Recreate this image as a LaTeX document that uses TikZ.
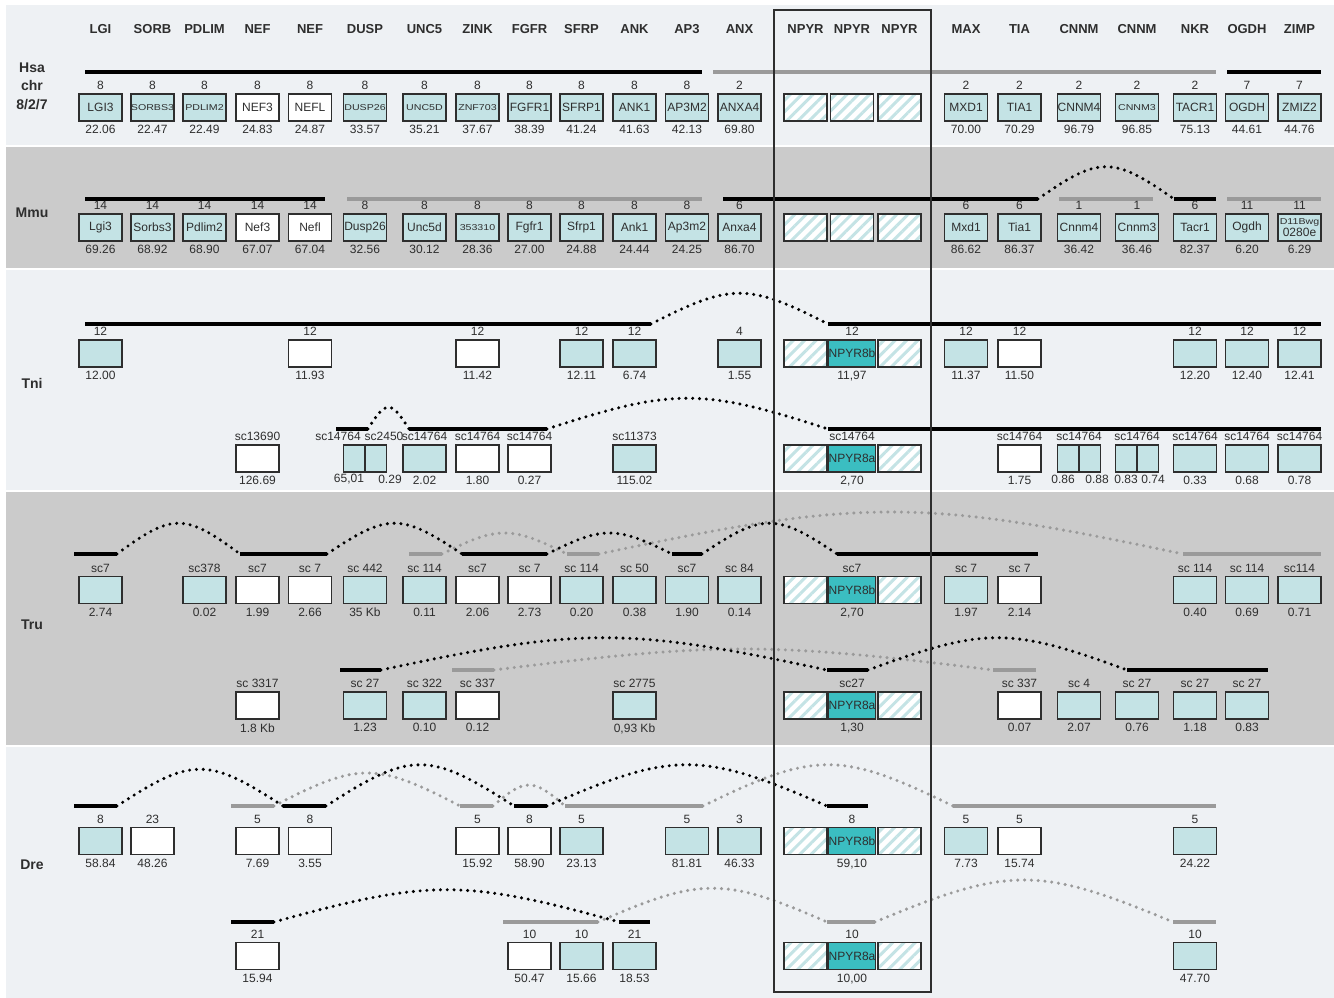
\documentclass[tikz,border=0pt]{standalone}
\usepackage{fontspec}
\setmainfont{Liberation Sans}
\newfontfamily\widesf{Liberation Sans}[FakeStretch=1.25]
\usepackage{xcolor}
\usetikzlibrary{patterns.meta}
\definecolor{lt}{HTML}{C4E3E5}
\definecolor{dt}{HTML}{3BBEC1}
\definecolor{bgl}{HTML}{EEF1F4}
\definecolor{bgd}{HTML}{CBCBCB}
\definecolor{gl}{HTML}{9A9A9A}
\definecolor{ink}{HTML}{2E2E2E}
\newcommand\sm{\widesf\fontsize{8.5}{9.5}\selectfont}

\begin{document}
\begin{tikzpicture}[x=1pt, y=1pt, label distance=2.5pt,
      gene/.style = {draw=ink, line width=1.2pt, minimum width=43pt,
        minimum height=27pt, inner sep=0pt, align=center, text=ink,
        font=\fontsize{12}{12.5}\selectfont},
      hatch/.style = {gene, preaction={fill=white}, pattern color=lt,
        pattern={Lines[angle=45,distance=8pt,line width=3pt]}},
      num/.style = {font=\fontsize{12}{13}\selectfont, text=ink, inner sep=1pt},
      head/.style = {font=\bfseries\fontsize{13}{15}\selectfont, text=ink},
      spec/.style = {font=\bfseries\fontsize{14}{18.5}\selectfont, text=ink, align=center},
      blk/.style = {line width=3.6pt, black},
      gry/.style = {line width=3.6pt, gl},
      dots/.style = {line width=3.4pt, line cap=round, dash pattern=on 0pt off 6.8pt}]
  \useasboundingbox (0,0) rectangle (1334,-998);
  \fill[white] (0,0) rectangle (1334,-998);
  \fill[bgl] (6,-5) rectangle (1334,-145);
  \fill[bgd] (6,-147) rectangle (1334,-268);
  \fill[bgl] (6,-270) rectangle (1334,-490);
  \fill[bgd] (6,-492) rectangle (1334,-745);
  \fill[bgl] (6,-747) rectangle (1334,-998);

  \foreach \gx/\gn [count=\i] in {100.5/LGI, 152.5/SORB, 204.5/PDLIM, 257.5/NEF, 310/NEF,
      365/DUSP, 424.5/UNC5, 477.5/ZINK, 529.5/FGFR, 581.5/SFRP, 634.5/ANK, 687/AP3,
      739.5/ANX, 805.5/NPYR, 852/NPYR, 899.5/NPYR, 966/MAX, 1019.5/TIA, 1079/CNNM,
      1137/CNNM, 1195/NKR, 1247/OGDH, 1299.5/ZIMP}
    \node[head] (hd-\i) at (\gx,-29) {\gn};
  \node[spec] (sp-hsa) at (32,-86) {Hsa\\chr\\8/2/7};
  \node[spec] (sp-mmu) at (32,-213) {Mmu};
  \node[spec] (sp-tni) at (32,-383) {Tni};
  \node[spec] (sp-tru) at (32,-625) {Tru};
  \node[spec] (sp-dre) at (32,-865) {Dre};

  \draw[blk] (85,-72) -- (702,-72) (1227,-72) -- (1321,-72);
  \draw[gry] (713,-72) -- (1216,-72);
  \draw[blk] (85,-199) -- (325,-199) (723,-199) -- (1038,-199) (1174,-199) -- (1216,-199);
  \draw[gry] (347,-199) -- (702,-199) (1059,-199) -- (1153,-199) (1227,-199) -- (1321,-199);
  \draw[dots] (1038,-199) .. controls (1099,-156) and (1113,-156) .. (1174,-199);

  \draw[blk] (85,-324) -- (651,-324) (828,-324) -- (1321,-324);
  \draw[dots] (651,-324) .. controls (731,-283) and (748,-283) .. (828,-324);
  \draw[blk] (336,-429) -- (368,-429) (409,-429) -- (547,-429) (828,-429) -- (1321,-429);
  \draw[dots] (368,-429) .. controls (386,-400) and (391,-400) .. (409,-429);
  \draw[dots] (547,-429) .. controls (673,-388) and (702,-388) .. (828,-429);

  \draw[blk] (74,-554) -- (117,-554) (240,-554) -- (327,-554) (462,-554) -- (547,-554)
    (672,-554) -- (702,-554) (837,-554) -- (1038,-554);
  \draw[gry] (409,-554) -- (442,-554) (567,-554) -- (599,-554) (1183,-554) -- (1321,-554);
  \draw[dots, gl] (442,-554) .. controls (498,-526) and (511,-526) .. (567,-554);
  \draw[dots, gl] (599,-554) .. controls (862,-498) and (920,-498) .. (1183,-554);
  \draw[dots] (117,-554) .. controls (172,-513) and (185,-513) .. (240,-554);
  \draw[dots] (327,-554) .. controls (388,-513) and (401,-513) .. (462,-554);
  \draw[dots] (547,-554) .. controls (603,-526) and (616,-526) .. (672,-554);
  \draw[dots] (702,-554) .. controls (763,-513) and (776,-513) .. (837,-554);
  \draw[blk] (340,-670) -- (381,-670) (827,-670) -- (868,-670) (1127,-670) -- (1268,-670);
  \draw[gry] (452,-670) -- (494,-670) (993,-670) -- (1036,-670);
  \draw[dots, gl] (494,-670) .. controls (719,-642) and (768,-642) .. (993,-670);
  \draw[dots] (381,-670) .. controls (582,-627) and (626,-627) .. (827,-670);
  \draw[dots] (868,-670) .. controls (985,-627) and (1010,-627) .. (1127,-670);

  \draw[blk] (74,-806) -- (117,-806) (283,-806) -- (326,-806) (514,-806) -- (547,-806)
    (827,-806) -- (868,-806);
  \draw[gry] (231,-806) -- (274,-806) (460,-806) -- (493,-806) (565,-806) -- (703,-806)
    (953,-806) -- (1216,-806);
  \draw[dots, gl] (274,-806) .. controls (358,-762) and (376,-762) .. (460,-806);
  \draw[dots, gl] (493,-806) .. controls (525,-778) and (533,-778) .. (565,-806);
  \draw[dots, gl] (703,-806) .. controls (815,-751) and (841,-751) .. (953,-806);
  \draw[dots] (117,-806) .. controls (192,-757) and (208,-757) .. (283,-806);
  \draw[dots] (326,-806) .. controls (411,-751) and (429,-751) .. (514,-806);
  \draw[dots] (547,-806) .. controls (673,-751) and (701,-751) .. (827,-806);
  \draw[blk] (231,-922) -- (274,-922) (619,-922) -- (650,-922);
  \draw[gry] (503,-922) -- (598,-922) (827,-922) -- (875,-922) (1173,-922) -- (1216,-922);
  \draw[dots, gl] (598,-922) .. controls (701,-877) and (724,-877) .. (827,-922);
  \draw[dots, gl] (875,-922) .. controls (1009,-866) and (1039,-866) .. (1173,-922);
  \draw[dots] (274,-922) .. controls (429,-879) and (464,-879) .. (619,-922);

  \draw[line width=1.1pt, ink] (774,-10) rectangle (931,-992);

  \foreach \gx/\gs/\gt/\gb/\gn [count=\i] in {100.5/lt/8/22.06/LGI3,
      152.5/lt/8/22.47/\sm SORBS3, 204.5/lt/8/22.49/\sm PDLIM2, 257.5/white/8/24.83/NEF3,
      310/white/8/24.87/NEFL, 365/lt/8/33.57/\sm DUSP26, 424.5/lt/8/35.21/\sm UNC5D,
      477.5/lt/8/37.67/\sm ZNF703, 529.5/lt/8/38.39/FGFR1, 581.5/lt/8/41.24/SFRP1,
      634.5/lt/8/41.63/ANK1, 687/lt/8/42.13/AP3M2, 739.5/lt/2/69.80/ANXA4,
      966/lt/2/70.00/MXD1, 1019.5/lt/2/70.29/TIA1, 1079/lt/2/96.79/CNNM4,
      1137/lt/2/96.85/\sm CNNM3, 1195/lt/2/75.13/TACR1, 1247/lt/7/44.61/OGDH,
      1299.5/lt/7/44.76/ZMIZ2}
    \node[gene, fill=\gs, label={[num]above:\gt}, label={[num]below:\gb}]
      (hsa-\i) at (\gx,-107.5) {\gn};

  \foreach \gx/\gs/\gt/\gb/\gn [count=\i] in {100.5/lt/14/69.26/Lgi3,
      152.5/lt/14/68.92/Sorbs3, 204.5/lt/14/68.90/Pdlim2, 257.5/white/14/67.07/Nef3,
      310/white/14/67.04/Nefl, 365/lt/8/32.56/Dusp26, 424.5/lt/8/30.12/Unc5d,
      477.5/lt/8/28.36/\sm 353310, 529.5/lt/8/27.00/Fgfr1, 581.5/lt/8/24.88/Sfrp1,
      634.5/lt/8/24.44/Ank1, 687/lt/8/24.25/Ap3m2, 739.5/lt/6/86.70/Anxa4,
      966/lt/6/86.62/Mxd1, 1019.5/lt/6/86.37/Tia1, 1079/lt/1/36.42/Cnnm4,
      1137/lt/1/36.46/Cnnm3, 1195/lt/6/82.37/Tacr1, 1247/lt/11/6.20/Ogdh,
      1299.5/lt/11/6.29/\sm D11Bwg\\0280e}
    \node[gene, fill=\gs, label={[num]above:\gt}, label={[num]below:\gb}]
      (mmu-\i) at (\gx,-227.5) {\gn};

  \foreach \gx/\gs/\gt/\gb/\gn [count=\i] in {100.5/lt/12/12.00/{}, 310/white/12/11.93/{},
      477.5/white/12/11.42/{}, 581.5/lt/12/12.11/{}, 634.5/lt/12/6.74/{},
      739.5/lt/4/1.55/{}, {852/dt/12/11,97/NPYR8b}, 966/lt/12/11.37/{},
      1019.5/white/12/11.50/{}, 1195/lt/12/12.20/{}, 1247/lt/12/12.40/{},
      1299.5/lt/12/12.41/{}}
    \node[gene, fill=\gs, label={[num]above:\gt}, label={[num]below:\gb}]
      (tnia-\i) at (\gx,-353.5) {\gn};

  \foreach \gx/\gs/\gt/\gb/\gn [count=\i] in {257.5/white/sc13690/126.69/{},
      424.5/lt/sc14764/2.02/{}, 477.5/white/sc14764/1.80/{}, 529.5/white/sc14764/0.27/{},
      634.5/lt/sc11373/115.02/{}, {852/dt/sc14764/2,70/NPYR8a},
      1019.5/white/sc14764/1.75/{}, 1195/lt/sc14764/0.33/{}, 1247/lt/sc14764/0.68/{},
      1299.5/lt/sc14764/0.78/{}}
    \node[gene, fill=\gs, label={[num]above:\gt}, label={[num]below:\gb}]
      (tnib-\i) at (\gx,-458.5) {\gn};
  \node[gene, fill=lt] (tnib-s6) at (365,-458.5) {};
  \node[gene, fill=lt, label={[num]above:sc14764}] (tnib-s19) at (1079,-458.5) {};
  \node[gene, fill=lt, label={[num]above:sc14764}] (tnib-s20) at (1137,-458.5) {};
  \draw[line width=1.2pt, ink] (tnib-s6.north) -- (tnib-s6.south)
    (tnib-s19.north) -- (tnib-s19.south) (tnib-s20.north) -- (tnib-s20.south);
  \node[num] (tnib-t6a) at (338,-436) {sc14764};
  \node[num] (tnib-t6b) at (384,-436) {sc2450};
  \node[num] (tnib-b6a) at (349,-479.5) {65,01};
  \node[num] (tnib-b6b) at (390,-479.5) {0.29};
  \node[num] (tnib-b19a) at (1063,-479.5) {0.86};
  \node[num] (tnib-b19b) at (1097,-479.5) {0.88};
  \node[num] (tnib-b20a) at (1126,-479.5) {0.83};
  \node[num] (tnib-b20b) at (1153,-479.5) {0.74};

  \foreach \gx/\gs/\gt/\gb/\gn [count=\i] in {100.5/lt/sc7/2.74/{}, 204.5/lt/sc378/0.02/{},
      257.5/white/sc7/1.99/{}, 310/white/sc 7/2.66/{}, 365/lt/sc 442/35 Kb/{},
      424.5/lt/sc 114/0.11/{}, 477.5/white/sc7/2.06/{}, 529.5/white/sc 7/2.73/{},
      581.5/lt/sc 114/0.20/{}, 634.5/lt/sc 50/0.38/{}, 687/lt/sc7/1.90/{},
      739.5/lt/sc 84/0.14/{}, {852/dt/sc7/2,70/NPYR8b}, 966/lt/sc 7/1.97/{},
      1019.5/white/sc 7/2.14/{}, 1195/lt/sc 114/0.40/{}, 1247/lt/sc 114/0.69/{},
      1299.5/lt/sc114/0.71/{}}
    \node[gene, fill=\gs, label={[num]above:\gt}, label={[num]below:\gb}]
      (trua-\i) at (\gx,-590) {\gn};

  \foreach \gx/\gs/\gt/\gb/\gn [count=\i] in {257.5/white/sc 3317/1.8 Kb/{},
      365/lt/sc 27/1.23/{}, 424.5/lt/sc 322/0.10/{}, 477.5/white/sc 337/0.12/{},
      {634.5/lt/sc 2775/0,93 Kb/{}}, {852/dt/sc27/1,30/NPYR8a}, 1019.5/white/sc 337/0.07/{},
      1079/lt/sc 4/2.07/{}, 1137/lt/sc 27/0.76/{}, 1195/lt/sc 27/1.18/{},
      1247/lt/sc 27/0.83/{}}
    \node[gene, fill=\gs, label={[num]above:\gt}, label={[num]below:\gb}]
      (trub-\i) at (\gx,-705.5) {\gn};

  \foreach \gx/\gs/\gt/\gb/\gn [count=\i] in {100.5/lt/8/58.84/{}, 152.5/white/23/48.26/{},
      257.5/white/5/7.69/{}, 310/white/8/3.55/{}, 477.5/white/5/15.92/{},
      529.5/white/8/58.90/{}, 581.5/lt/5/23.13/{}, 687/lt/5/81.81/{}, 739.5/lt/3/46.33/{},
      {852/dt/8/59,10/NPYR8b}, 966/lt/5/7.73/{}, 1019.5/white/5/15.74/{},
      1195/lt/5/24.22/{}}
    \node[gene, fill=\gs, label={[num]above:\gt}, label={[num]below:\gb}]
      (drea-\i) at (\gx,-841) {\gn};

  \foreach \gx/\gs/\gt/\gb/\gn [count=\i] in {257.5/white/21/15.94/{},
      529.5/white/10/50.47/{}, 581.5/lt/10/15.66/{}, 634.5/lt/21/18.53/{},
      {852/dt/10/10,00/NPYR8a}, 1195/lt/10/47.70/{}}
    \node[gene, fill=\gs, label={[num]above:\gt}, label={[num]below:\gb}]
      (dreb-\i) at (\gx,-956) {\gn};

  \foreach \gy/\rw in {107.5/hsa, 227.5/mmu, 353.5/tnia, 458.5/tnib, 590/trua,
      705.5/trub, 841/drea, 956/dreb} {
    \node[hatch] (\rw-L) at (805.5,-\gy) {};
    \node[hatch] (\rw-R) at (899.5,-\gy) {};
  }
  \node[hatch] (hsa-M) at (852,-107.5) {};
  \node[hatch] (mmu-M) at (852,-227.5) {};
\end{tikzpicture}
\end{document}
